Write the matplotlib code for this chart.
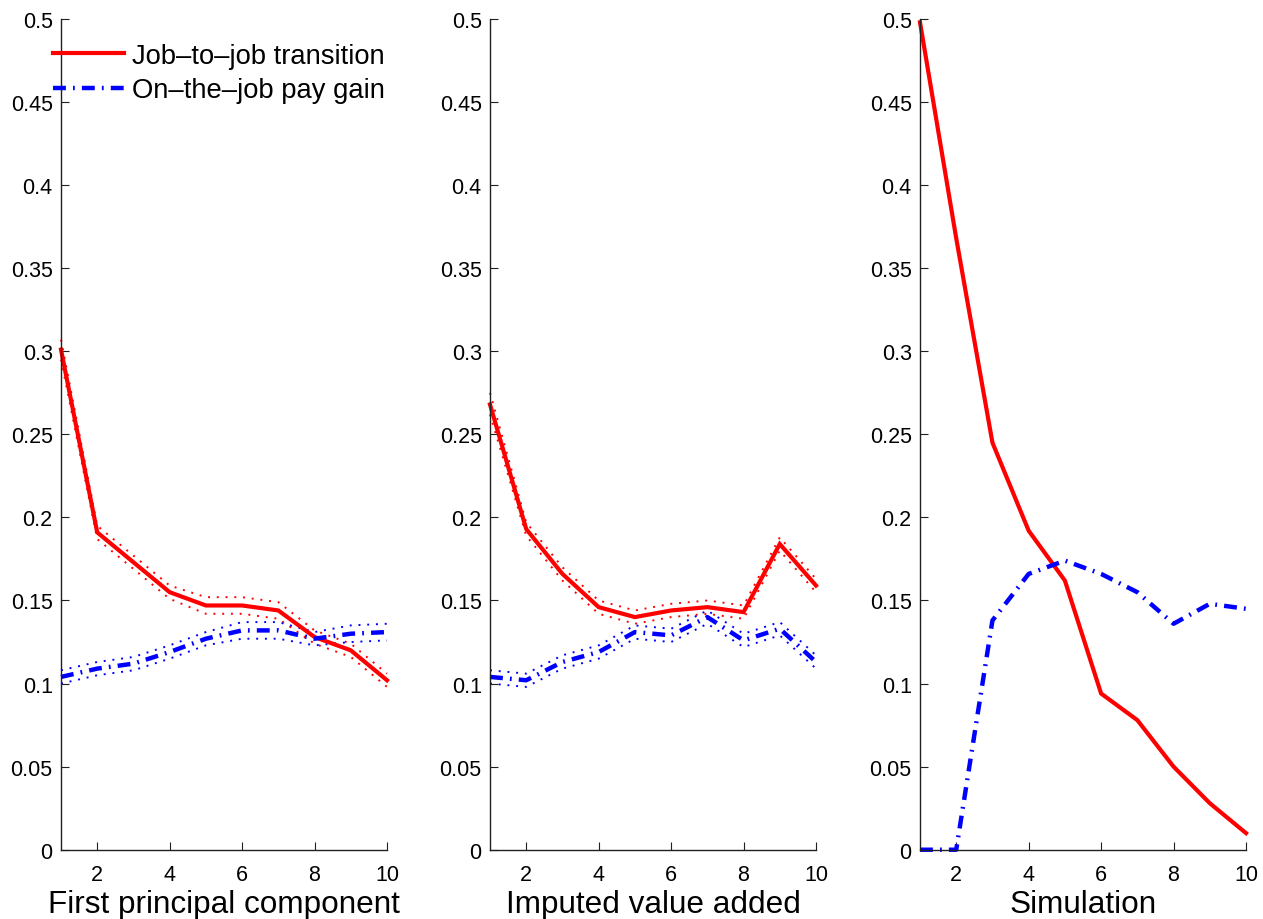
import numpy as np
import matplotlib
matplotlib.use('Agg')
import matplotlib.pyplot as plt
from matplotlib.ticker import FuncFormatter

plt.rcParams['font.family'] = ['Liberation Sans', 'DejaVu Sans']

deciles = np.arange(1, 11)

# first principal component
pc_j2j = [0.301, 0.191, 0.173, 0.155, 0.147, 0.147, 0.144, 0.128, 0.120, 0.102]
pc_j2j_lo = [0.295, 0.187, 0.169, 0.151, 0.142, 0.142, 0.139, 0.124, 0.116, 0.098]
pc_j2j_hi = [0.307, 0.195, 0.177, 0.159, 0.152, 0.152, 0.149, 0.132, 0.124, 0.106]
pc_gain = [0.104, 0.109, 0.112, 0.119, 0.127, 0.132, 0.132, 0.127, 0.130, 0.131]
pc_gain_lo = [0.100, 0.105, 0.108, 0.115, 0.123, 0.127, 0.127, 0.123, 0.125, 0.126]
pc_gain_hi = [0.108, 0.113, 0.116, 0.123, 0.131, 0.137, 0.137, 0.131, 0.135, 0.136]

# imputed value added
va_j2j = [0.268, 0.193, 0.166, 0.146, 0.140, 0.144, 0.146, 0.143, 0.184, 0.159]
va_j2j_lo = [0.262, 0.189, 0.162, 0.142, 0.136, 0.140, 0.142, 0.139, 0.180, 0.155]
va_j2j_hi = [0.275, 0.197, 0.170, 0.150, 0.144, 0.148, 0.150, 0.147, 0.188, 0.163]
va_gain = [0.104, 0.102, 0.113, 0.119, 0.131, 0.129, 0.140, 0.126, 0.133, 0.113]
va_gain_lo = [0.100, 0.098, 0.109, 0.115, 0.127, 0.125, 0.136, 0.122, 0.129, 0.109]
va_gain_hi = [0.108, 0.106, 0.117, 0.123, 0.135, 0.133, 0.144, 0.130, 0.137, 0.117]

# simulation
sim_j2j = [0.498, 0.368, 0.245, 0.192, 0.162, 0.094, 0.078, 0.050, 0.028, 0.010]
sim_gain = [0.0, 0.0, 0.138, 0.166, 0.174, 0.166, 0.155, 0.136, 0.148, 0.145]

xlabels = ['First principal component', 'Imputed value added', 'Simulation']

DASHDOT = (0, (2.9, 1.6, 0.4, 1.6))
DOTS = (0, (1, 3.5))

fig = plt.figure(figsize=(12.63, 9.2), dpi=100)
lefts = [61 / 1263, 490 / 1263, 920 / 1263]
axes = [fig.add_axes([l, 0.0753, 326 / 1263, 0.903]) for l in lefts]

panels = [
    (pc_j2j, pc_j2j_lo, pc_j2j_hi, pc_gain, pc_gain_lo, pc_gain_hi),
    (va_j2j, va_j2j_lo, va_j2j_hi, va_gain, va_gain_lo, va_gain_hi),
    (sim_j2j, None, None, sim_gain, None, None),
]

for ax, (j2j, jlo, jhi, gain, glo, ghi), lab in zip(axes, panels, xlabels):
    if jlo is not None:
        # dotted confidence bands
        for band in (jlo, jhi):
            ax.plot(deciles, band, color='red', lw=1.4, ls=DOTS, clip_on=False)
        for band in (glo, ghi):
            ax.plot(deciles, band, color='blue', lw=1.4, ls=DOTS, clip_on=False)
    ax.plot(deciles, j2j, color='red', lw=3, solid_joinstyle='miter',
            label='Job\u2013to\u2013job transition', clip_on=False)
    ax.plot(deciles, gain, color='blue', lw=3.2, ls=DASHDOT,
            label='On\u2013the\u2013job pay gain', clip_on=False)

    ax.set_xlim(1, 10)
    ax.set_ylim(0, 0.5)
    ax.set_xticks([2, 4, 6, 8, 10])
    ax.set_yticks(np.arange(0, 0.501, 0.05))
    ax.yaxis.set_major_formatter(FuncFormatter(lambda v, p: '%g' % round(v, 2)))
    ax.spines['top'].set_visible(False)
    ax.spines['right'].set_visible(False)
    for s in ('left', 'bottom'):
        ax.spines[s].set_linewidth(1.0)
        ax.spines[s].set_color('#202020')
    ax.tick_params(direction='in', length=6, width=0.8, labelsize=15.5,
                   color='#202020')
    ax.tick_params(axis='x', pad=10)
    ax.tick_params(axis='y', pad=6)
    ax.set_xlabel(lab, fontsize=22.7, labelpad=3)

h, l = axes[0].get_legend_handles_labels()
fig.legend(h, l, loc='upper left', bbox_to_anchor=(53 / 1263, (920 - 44) / 920),
           frameon=False, fontsize=19.7, handlelength=2.6, handletextpad=0.3,
           labelspacing=0.3, borderpad=0, borderaxespad=0)

fig.savefig('out.png', dpi=100)
